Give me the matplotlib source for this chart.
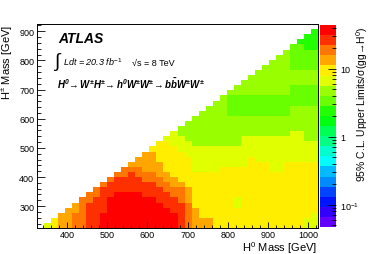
import colorsys
import numpy as np
import matplotlib
matplotlib.use('Agg')
import matplotlib.pyplot as plt
from matplotlib.colors import ListedColormap, LogNorm
from matplotlib.ticker import MultipleLocator, FixedLocator, NullFormatter

plt.rcParams['font.family'] = ['Liberation Sans', 'DejaVu Sans']
plt.rcParams['mathtext.fontset'] = 'custom'
plt.rcParams['mathtext.rm'] = 'Liberation Sans'
plt.rcParams['mathtext.it'] = 'Liberation Sans:italic'
plt.rcParams['mathtext.bf'] = 'Liberation Sans:bold:italic'

# binning of the limit map (40 x 40 bins)
h0_edges = np.linspace(325, 1025, 41)
hpm_edges = np.linspace(225, 925, 41)

band_values = {'R': 37.1, 'r': 26.4, 'O': 18.7, 'o': 13.3, 'Y': 9.4,
               'y': 6.7, 'L': 4.76, 'G': 3.38, 'g': 2.4}

# one string per H0 mass bin, lowest H+- bin first
h0_columns = [
    "",
    "y",
    "YY",
    "ooo",
    "oooo",
    "OOOoo",
    "OOOOOO",
    "rrrrrOO",
    "rrrrrrOO",
    "RRRrrrrrO",
    "RRRRRRrrrO",
    "RRRRRRRrrrO",
    "RRRRRRRrrrOO",
    "RRRRRRRrrrrOo",
    "RRRRRRRrrrOOoo",
    "RRRRRRrrrOOoooo",
    "RRRRRRrrrOOooooY",
    "RRRRRrrrOOoooYYYY",
    "RRRRrrrOOooYYYYYYy",
    "RRRrrrOOooYYYYYYyyy",
    "rrrrrOOOoYYYYYYyyyLL",
    "OOOOOoooYYYYYYyyyLLLL",
    "ooooYYYYYYYyyyyyLLLLLL",
    "ooYYYYYYYYYyyyyyLLLLLLL",
    "ooYYYYYYYYYyyyyyLLLLLLLL",
    "YYYYYYYYYYYyyyyyLLLLLLLLL",
    "Y" * 12 + "y" * 4 + "L" * 10,
    "Y" * 12 + "y" * 4 + "L" * 6 + "G" * 4 + "L",
    "YYYYyyYYYYYY" + "y" * 4 + "L" * 6 + "G" * 4 + "LL",
    "Y" * 12 + "y" * 6 + "L" * 4 + "G" * 4 + "L" * 3,
    "Y" * 14 + "y" * 4 + "L" * 4 + "G" * 4 + "L" * 4,
    "Y" * 13 + "y" * 5 + "L" * 4 + "G" * 4 + "L" * 5,
    "Y" * 13 + "y" * 5 + "L" * 4 + "G" * 4 + "L" * 6,
    "Y" * 11 + "y" * 7 + "L" * 4 + "G" * 4 + "L" * 7,
    "Y" * 11 + "y" * 7 + "L" * 4 + "G" * 4 + "L" * 8,
    "Y" * 13 + "y" * 5 + "L" * 4 + "G" * 4 + "L" * 9,
    "Y" * 13 + "y" * 6 + "L" * 5 + "G" * 4 + "L" * 3 + "G" * 5,
    "Y" * 13 + "y" * 6 + "L" * 5 + "G" * 4 + "L" * 3 + "G" * 5 + "g",
    "yy" + "Y" * 11 + "y" * 4 + "L" * 7 + "G" * 4 + "L" * 3 + "G" * 4 + "g" * 3,
    "yyy" + "Y" * 10 + "y" * 4 + "L" * 7 + "G" * 4 + "L" * 3 + "G" * 4 + "g" * 4,
]

limits = np.full((40, 40), np.nan)
for c, col in enumerate(h0_columns):
    for r, code in enumerate(col):
        limits[r, c] = band_values[code]
limits = np.ma.masked_invalid(limits)

# ROOT "pretty" palette, 20 contour bands
pretty = [colorsys.hls_to_rgb((280 - (i + 1) * 5.6) / 360, 0.5, 1.0) for i in range(50)]
ncont = 20
cmap = ListedColormap([pretty[int((j + 0.99) * 50 / ncont)] for j in range(ncont)])
norm = LogNorm(vmin=0.047, vmax=44)

fig = plt.figure(figsize=(3.74, 2.55), dpi=100)
ax = fig.add_axes([37 / 374, 26 / 255, 281 / 374, 204 / 255])
mesh = ax.pcolormesh(h0_edges, hpm_edges, limits, cmap=cmap, norm=norm)
ax.set_xlim(325, 1025)
ax.set_ylim(225, 925)
ax.xaxis.set_major_locator(MultipleLocator(100))
ax.xaxis.set_minor_locator(MultipleLocator(20))
ax.yaxis.set_major_locator(MultipleLocator(100))
ax.yaxis.set_minor_locator(MultipleLocator(20))
ax.tick_params(which='both', direction='in', labelsize=6.5, width=0.6, pad=2)
ax.tick_params(axis='x', pad=1.5)
ax.tick_params(axis='x', which='major', length=4)
ax.tick_params(axis='x', which='minor', length=2)
ax.tick_params(axis='y', which='major', length=5.5)
ax.tick_params(axis='y', which='minor', length=3)
for s in ax.spines.values():
    s.set_linewidth(0.7)
ax.set_ylabel('H$^{\\pm}$ Mass [GeV]', loc='top', fontsize=8, labelpad=3)
fig.text(317 / 374, 1 - 248 / 255, 'H$^0$ Mass [GeV]', ha='right', va='center', fontsize=8)

cax = fig.add_axes([320 / 374, 27 / 255, 16 / 374, 202 / 255])
cb = fig.colorbar(mesh, cax=cax)
cb.outline.set_visible(False)
cax.yaxis.set_major_locator(FixedLocator([0.1, 1, 10]))
cax.yaxis.set_ticklabels(['10$^{-1}$', '1', '10'])
cax.yaxis.set_minor_locator(FixedLocator([0.05, 0.06, 0.07, 0.08, 0.09, 0.2, 0.3, 0.4, 0.5,
                                          0.6, 0.7, 0.8, 0.9, 2, 3, 4, 5, 6, 7, 8, 9,
                                          20, 30, 40]))
cax.yaxis.set_minor_formatter(NullFormatter())
cax.tick_params(which='both', direction='in', labelsize=6.5, width=0.6, pad=3)
cax.tick_params(which='major', length=6)
cax.tick_params(which='minor', length=3)
fig.text(362 / 374, 1 - 27 / 255, '95% C.L. Upper Limits/σ(gg→H$^0$)', rotation=90,
         ha='center', va='top', fontsize=7.5)

fig.text(58 / 374, 1 - 43 / 255, 'ATLAS', fontsize=10, fontweight='bold',
         fontstyle='italic', va='baseline')
fig.text(54 / 374, 1 - 62 / 255, '$\\int$', fontsize=14, va='center')
fig.text(63 / 374, 1 - 66 / 255, 'Ldt = 20.3 fb$^{-1}$', fontsize=6.5,
         fontstyle='italic', va='baseline')
fig.text(132 / 374, 1 - 66 / 255, '√s = 8 TeV', fontsize=6.5, va='baseline')
fig.text(57 / 374, 1 - 89 / 255,
         '$\\mathbf{H^{0}\\!\\rightarrow W^{\\pm}H^{\\pm}\\!\\rightarrow h^{0}W^{\\pm}W^{\\pm}'
         '\\!\\rightarrow b\\bar{b}W^{\\pm}W^{\\pm}}$', fontsize=7, va='baseline')

fig.savefig('out.png', dpi=100)
